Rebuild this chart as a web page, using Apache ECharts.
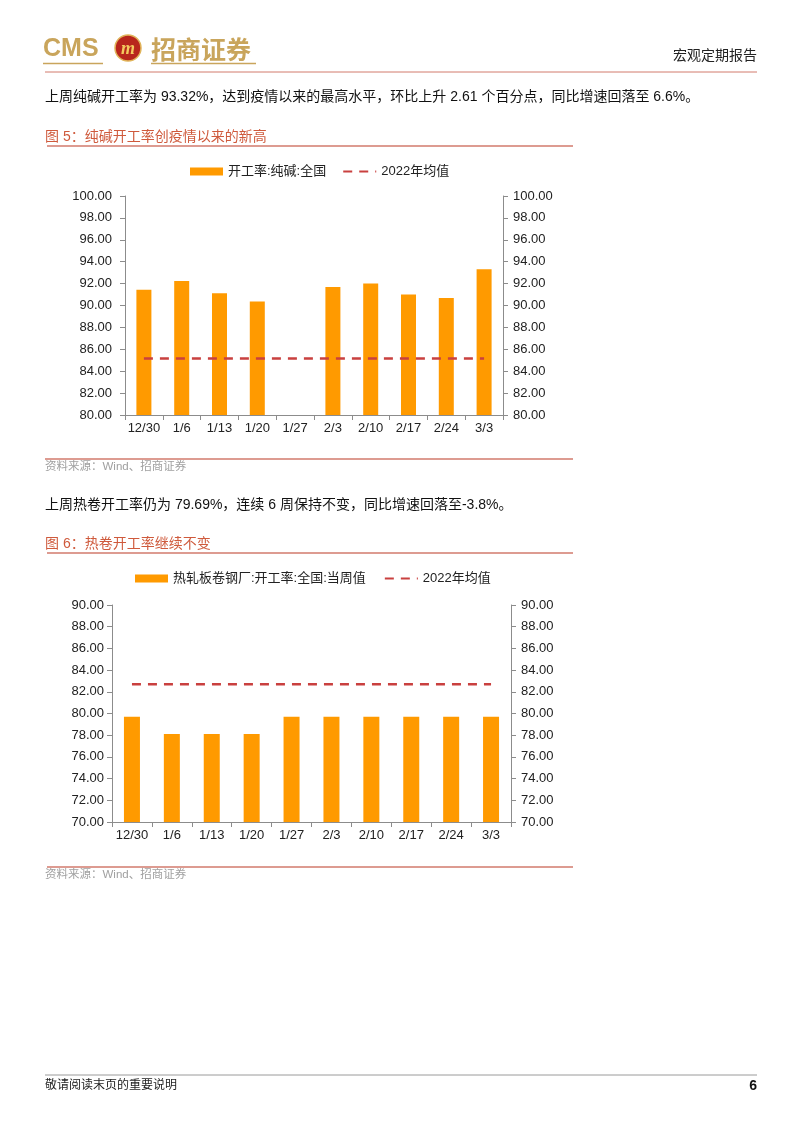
<!DOCTYPE html>
<html>
<head>
<meta charset="utf-8">
<script src="https://cdn.jsdelivr.net/npm/echarts@6/dist/echarts.min.js"></script>
<style>
html,body{margin:0;padding:0;background:#fff;}
#page{width:802px;height:1133px;}
</style>
</head>
<body>
<div id="page"></div>
<script>
// ---- data ----
const categories = ['12/30', '1/6', '1/13', '1/20', '1/27', '2/3', '2/10', '2/17', '2/24', '3/3'];
const sodaName = '开工率:纯碱:全国';
const sodaRate = [91.43, 92.24, 91.11, 90.36, null, 91.69, 92.00, 91.00, 90.69, 93.32];
const sodaAvg2022 = [85.17, 85.17, 85.17, 85.17, 85.17, 85.17, 85.17, 85.17, 85.17, 85.17];
const hrcName = '热轧板卷钢厂:开工率:全国:当周值';
const hrcRate = [79.69, 78.12, 78.12, 78.12, 79.69, 79.69, 79.69, 79.69, 79.69, 79.69];
const hrcAvg2022 = [82.70, 82.70, 82.70, 82.70, 82.70, 82.70, 82.70, 82.70, 82.70, 82.70];
const avgName = '2022年均值';
const sodaAxis = { min: 80, max: 100, step: 2 };
const hrcAxis = { min: 70, max: 90, step: 2 };

// ---- texts ----
const headerRight = '宏观定期报告';
const para1 = '上周纯碱开工率为 93.32%，达到疫情以来的最高水平，环比上升 2.61 个百分点，同比增速回落至 6.6%。';
const title1 = '图 5：纯碱开工率创疫情以来的新高';
const para2 = '上周热卷开工率仍为 79.69%，连续 6 周保持不变，同比增速回落至-3.8%。';
const title2 = '图 6：热卷开工率继续不变';
const sourceText = '资料来源：Wind、招商证券';
const footerText = '敬请阅读末页的重要说明';
const pageNo = '6';

const FONT = '"Liberation Sans", Arial, "Noto Sans CJK SC", sans-serif';
const BAR = '#FF9A00';
const DASH = '#C9403F';
const AXIS = '#8C8C8C';
const GOLD = '#C9A55C';
const RED_LINE = '#D27A6C';
const TITLE_RED = '#CF5A3C';

const chart = echarts.init(document.getElementById('page'), null, { renderer: 'canvas' });

function yAxisDef(gridIndex, range, pos, margin) {
  return {
    type: 'value', gridIndex: gridIndex, position: pos,
    min: range.min, max: range.max, interval: range.step,
    axisLine: { show: true, lineStyle: { color: AXIS, width: 1 } },
    axisTick: { show: true, length: 5, lineStyle: { color: AXIS } },
    splitLine: { show: false },
    axisLabel: {
      color: '#222', fontSize: 13, fontFamily: FONT, margin: margin,
      formatter: v => v.toFixed(2)
    }
  };
}
function xAxisDef(gridIndex) {
  return {
    type: 'category', gridIndex: gridIndex, data: categories, boundaryGap: true,
    axisLine: { show: true, lineStyle: { color: AXIS, width: 1 } },
    axisTick: { show: true, length: 5, lineStyle: { color: AXIS } },
    axisLabel: { color: '#222', fontSize: 13, fontFamily: FONT, margin: 7, interval: 0 }
  };
}

function txt(x, y, text, opt) {
  return {
    type: 'text', silent: true,
    style: Object.assign({
      text: text, x: x, y: y, fill: '#111', fontSize: 14, fontFamily: FONT,
      verticalAlign: 'middle', align: 'left'
    }, opt || {})
  };
}
function hline(x1, x2, y, color, w) {
  return { type: 'line', silent: true, shape: { x1: x1, y1: y, x2: x2, y2: y }, style: { stroke: color, lineWidth: w || 1 } };
}

const graphics = [
  // header logo
  txt(43, 49, 'CMS', { fill: GOLD, fontSize: 25, fontWeight: 'bold', fontFamily: '"Liberation Sans", Arial, sans-serif' }),
  { type: 'circle', silent: true, shape: { cx: 128, cy: 48, r: 13 }, style: { fill: '#B8261C', stroke: '#E0B45A', lineWidth: 1.5 } },
  txt(128, 49, 'm', { fill: '#F3C95E', fontSize: 18, fontWeight: 'bold', fontStyle: 'italic', align: 'center', fontFamily: '"Liberation Serif", serif' }),
  txt(151, 49, '招商证券', { fill: GOLD, fontSize: 25, fontWeight: 'bold', fontFamily: '"Noto Sans CJK SC", sans-serif' }),
  hline(43, 103, 63.5, GOLD, 1.5),
  hline(151, 256, 63.5, GOLD, 1.5),
  hline(45, 757, 72, RED_LINE, 1),
  txt(757, 55, headerRight, { align: 'right', fontSize: 14, fill: '#222', fontFamily: '"Noto Sans CJK SC", sans-serif' }),

  // section 1
  txt(45, 97, para1, { fontSize: 14 }),
  txt(45, 137, title1, { fontSize: 14, fill: TITLE_RED }),
  hline(47, 573, 146, RED_LINE, 1.5),
  hline(45, 573, 459, RED_LINE, 1.5),
  txt(45, 467, sourceText, { fontSize: 11.5, fill: '#A0A0A0' }),

  // section 2
  txt(45, 505, para2, { fontSize: 14 }),
  txt(45, 544, title2, { fontSize: 14, fill: TITLE_RED }),
  hline(47, 573, 553, RED_LINE, 1.5),
  hline(47, 573, 867, RED_LINE, 1.5),
  txt(45, 875, sourceText, { fontSize: 11.5, fill: '#A0A0A0' }),

  // footer
  hline(45, 757, 1075, '#9A9A9A', 1),
  txt(45, 1086, footerText, { fontSize: 12, fill: '#222' }),
  txt(757, 1086, pageNo, { align: 'right', fontSize: 14, fontWeight: 'bold', fill: '#111' })
];

const hiddenSymbol = { color: 'rgba(0,0,0,0)', borderWidth: 0, borderColor: 'rgba(0,0,0,0)', opacity: 0 };

const option = {
  backgroundColor: '#fff',
  animation: false,
  textStyle: { fontFamily: FONT },
  legend: [
    {
      left: 185, top: 160, itemWidth: 33, itemHeight: 8, itemGap: 16,
      textStyle: { fontSize: 13, color: '#222', fontFamily: FONT },
      data: [{ name: sodaName, icon: 'rect' }, { name: avgName + ' ', itemStyle: hiddenSymbol }]
    },
    {
      left: 130, top: 567, itemWidth: 33, itemHeight: 8, itemGap: 18,
      textStyle: { fontSize: 13, color: '#222', fontFamily: FONT },
      data: [{ name: hrcName, icon: 'rect' }, { name: avgName, itemStyle: hiddenSymbol }]
    }
  ],
  grid: [
    { left: 125, right: 802 - 503, top: 196, bottom: 1133 - 415, containLabel: false },
    { left: 112, right: 802 - 511, top: 605, bottom: 1133 - 822, containLabel: false }
  ],
  xAxis: [xAxisDef(0), xAxisDef(1)],
  yAxis: [
    yAxisDef(0, sodaAxis, 'left', 13),
    yAxisDef(0, sodaAxis, 'right', 10),
    yAxisDef(1, hrcAxis, 'left', 8),
    yAxisDef(1, hrcAxis, 'right', 10)
  ],
  series: [
    { name: sodaName, type: 'bar', xAxisIndex: 0, yAxisIndex: 0, data: sodaRate, barWidth: 15, itemStyle: { color: BAR } },
    { name: avgName + ' ', type: 'line', xAxisIndex: 0, yAxisIndex: 0, data: sodaAvg2022, symbol: 'none',
      itemStyle: { color: DASH }, lineStyle: { color: DASH, width: 2.5, type: [9, 7] } },
    { name: hrcName, type: 'bar', xAxisIndex: 1, yAxisIndex: 2, data: hrcRate, barWidth: 16, itemStyle: { color: BAR } },
    { name: avgName, type: 'line', xAxisIndex: 1, yAxisIndex: 2, data: hrcAvg2022, symbol: 'none',
      itemStyle: { color: DASH }, lineStyle: { color: DASH, width: 2.5, type: [9, 7] } }
  ],
  graphic: graphics
};
chart.setOption(option);
</script>
</body>
</html>
